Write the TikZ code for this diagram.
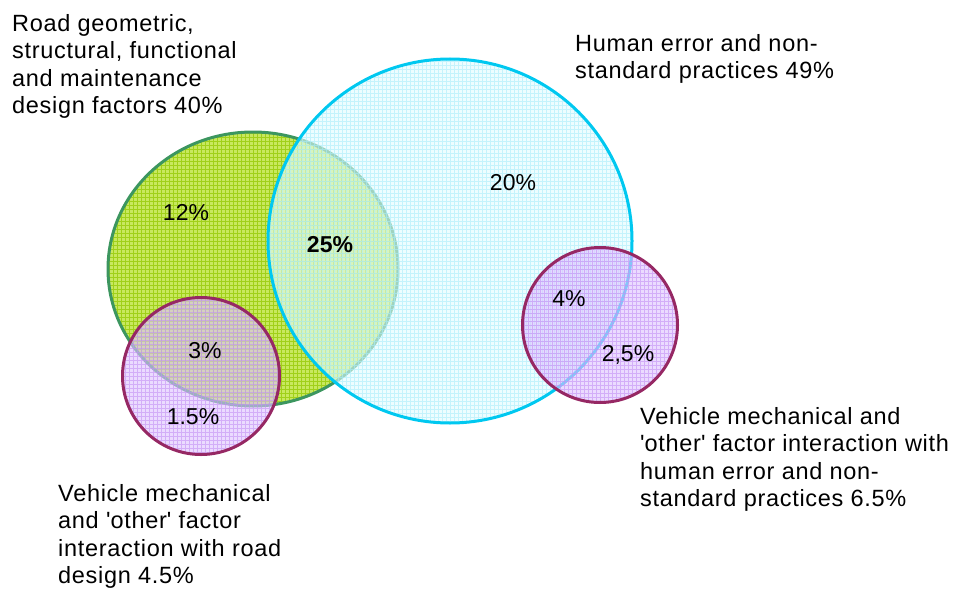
\documentclass[tikz,border=0pt]{standalone}
\usepackage{fontspec}
\setmainfont{Liberation Sans}
\usetikzlibrary{shapes.geometric}

\definecolor{roadfill}{RGB}{200,232,95}
\definecolor{roadgrid}{RGB}{160,208,25}
\definecolor{roadline}{RGB}{60,150,95}
\definecolor{humanfill}{RGB}{225,252,255}
\definecolor{humangrid}{RGB}{170,238,252}
\definecolor{humanline}{RGB}{0,200,240}
\definecolor{vehfill}{RGB}{222,195,255}
\definecolor{vehgrid}{RGB}{195,145,245}
\definecolor{vehline}{RGB}{150,40,100}

\tikzset{
  txt/.style={font=\fontsize{23.5}{27.5}\selectfont\addfontfeature{LetterSpace=3},
      inner sep=0pt, align=left, anchor=north west},
  pct/.style={font=\fontsize{23}{27.5}\selectfont, inner sep=0pt},
  meshed/.style={path picture={\draw[#1, line width=0.6pt, step=4pt]
      (path picture bounding box.south west) grid (path picture bounding box.north east);}},
  blob/.style={inner sep=0pt, outer sep=0pt, line width=3pt},
}

\begin{document}
\begin{tikzpicture}[x=1pt,y=-1pt]
\useasboundingbox (0,0) rectangle (957,599);
% circles
\node[blob, ellipse, draw=roadline, fill=roadfill, meshed=roadgrid,
      minimum width=290pt, minimum height=274pt] (road) at (253,269) {};
\node[blob, circle, draw=humanline, fill=humanfill, fill opacity=0.6,
      meshed={humangrid,opacity=0.6}, minimum size=364pt] (human) at (450,241) {};
\node[blob, circle, draw=vehline, fill=vehfill, fill opacity=0.6,
      meshed={vehgrid,opacity=0.6}, minimum size=157pt] (vehroad) at (201,376) {};
\node[blob, circle, draw=vehline, fill=vehfill, fill opacity=0.6,
      meshed={vehgrid,opacity=0.6}, minimum size=155pt] (vehhuman) at (600,325) {};
% shares
\node[pct] (p12) at (186,213) {12\%};
\node[pct, font=\fontsize{23}{27.5}\selectfont\bfseries] (p25) at (330,245) {25\%};
\node[pct] (p20) at (513,183) {20\%};
\node[pct] (p3) at (205,351) {3\%};
\node[pct] (p15) at (193,417) {1.5\%};
\node[pct] (p4) at (569,299) {4\%};
\node[pct] (p25b) at (628,355) {2,5\%};
% captions
\node[txt] (roadtxt) at (12,14) {Road geometric,\\structural, functional\\and maintenance\\design factors 40\%};
\node[txt] (humantxt) at (575,34) {Human error and non-\\standard practices 49\%};
\node[txt] (vehhumantxt) at (640,407) {Vehicle mechanical and\\\textquotesingle other\textquotesingle{} factor interaction with\\human error and non-\\standard practices 6.5\%};
\node[txt] (vehroadtxt) at (58,484) {Vehicle mechanical\\and \textquotesingle other\textquotesingle{} factor\\interaction with road\\design 4.5\%};
\end{tikzpicture}
\end{document}
